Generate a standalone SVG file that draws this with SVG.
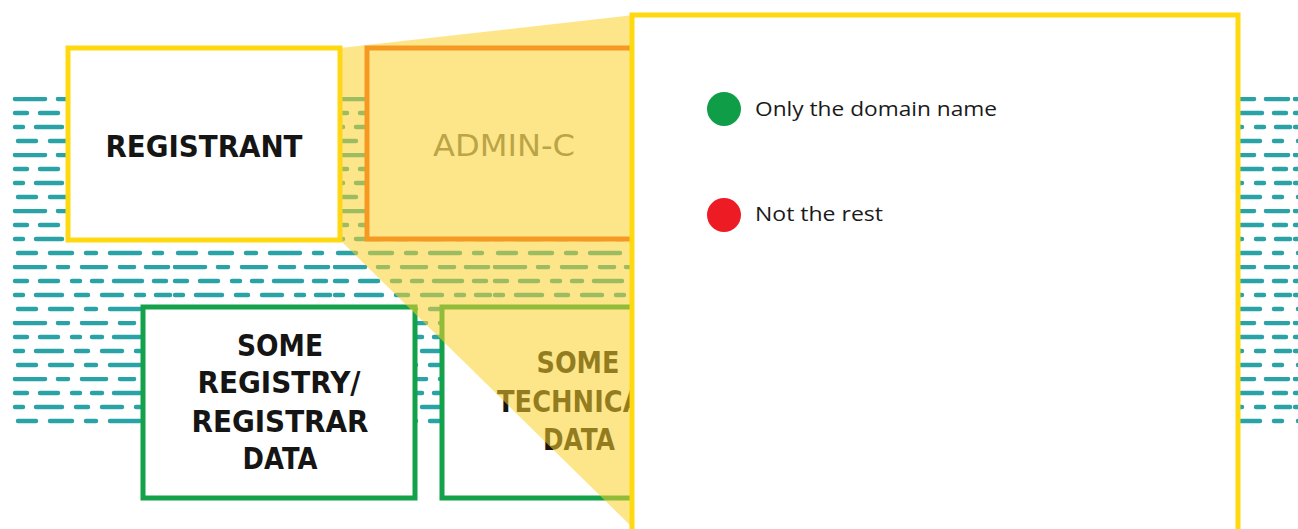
<svg xmlns="http://www.w3.org/2000/svg" width="1298" height="529" viewBox="0 0 1298 529">
  <defs>
    <style>
      .comic { font-family: "DejaVu Sans", "Liberation Sans", sans-serif; font-weight: bold; font-size: 30px; fill: #151515; text-anchor: middle; }
      .faint { font-family: "DejaVu Sans", "Liberation Sans", sans-serif; font-weight: normal; font-size: 31px; fill: #6e6e6e; text-anchor: middle; }
      .legend { font-family: "Open Sans", "Liberation Sans", sans-serif; font-size: 20px; fill: #1a1a1a; }
      .box-yellow { fill: #ffffff; stroke: #ffd90f; stroke-width: 5; }
      .box-orange { fill: #ffffff; stroke: #f0561a; stroke-width: 5; }
      .box-green { fill: #ffffff; stroke: #13a14b; stroke-width: 5; }
    </style>
    <!-- hand-drawn looking teal dash rows, four rows per tile -->
    <pattern id="dashes" x="12" y="97" width="160" height="56" patternUnits="userSpaceOnUse">
      <g stroke="#2aa3a6" stroke-width="4.5" stroke-linecap="round" fill="none">
        <path d="M3 2h30 M46 2h10 M70 2h24 M108 2h14 M134 2h22"/>
        <path d="M3 16h12 M28 16h18 M60 16h8 M80 16h10 M102 16h28 M142 16h12"/>
        <path d="M3 30h8 M24 30h26 M64 30h12 M90 30h20 M124 30h8 M144 30h14"/>
        <path d="M6 44h18 M38 44h22 M74 44h10 M98 44h30 M142 44h8"/>
      </g>
    </pattern>
  </defs>

  <rect width="1298" height="529" fill="#ffffff"/>

  <!-- water-like background band -->
  <rect id="background" x="12" y="93" width="1286" height="332" fill="url(#dashes)"/>

  <g id="registrant">
    <rect class="box-yellow" x="68" y="48" width="272" height="192"/>
    <text class="comic" x="204" y="157" textLength="197" lengthAdjust="spacingAndGlyphs">REGISTRANT</text>
  </g>

  <g id="admin-c">
    <rect class="box-orange" x="367" y="48" width="290" height="191"/>
    <text class="faint" x="504" y="156" textLength="142" lengthAdjust="spacingAndGlyphs">ADMIN-C</text>
  </g>

  <g id="registry-data">
    <rect class="box-green" x="143" y="307" width="272" height="191"/>
    <text class="comic" x="280" y="356" textLength="86" lengthAdjust="spacingAndGlyphs">SOME</text>
    <text class="comic" x="279" y="393" textLength="163" lengthAdjust="spacingAndGlyphs">REGISTRY/</text>
    <text class="comic" x="280" y="432" textLength="177" lengthAdjust="spacingAndGlyphs">REGISTRAR</text>
    <text class="comic" x="280" y="469" textLength="75" lengthAdjust="spacingAndGlyphs">DATA</text>
  </g>

  <g id="technical-data">
    <rect class="box-green" x="442" y="307" width="260" height="191"/>
    <text class="comic" x="578" y="373" textLength="83" lengthAdjust="spacingAndGlyphs">SOME</text>
    <text class="comic" x="578" y="412" textLength="162" lengthAdjust="spacingAndGlyphs">TECHNICAL</text>
    <text class="comic" x="579" y="450" textLength="72" lengthAdjust="spacingAndGlyphs">DATA</text>
  </g>

  <!-- magnifier wedge from the registrant box to the detail panel -->
  <g id="connectors">
    <polygon points="340,48 634,15 634,529 340,240" fill="#fbd12a" fill-opacity="0.55"/>
  </g>

  <g id="detail-panel">
    <rect x="632" y="15" width="606" height="530" fill="#ffffff" stroke="#ffd90f" stroke-width="5"/>
    <circle cx="724" cy="109" r="17" fill="#0f9d48"/>
    <text class="legend" x="755" y="116" textLength="242" lengthAdjust="spacingAndGlyphs">Only the domain name</text>
    <circle cx="724" cy="215" r="17" fill="#ed1c24"/>
    <text class="legend" x="755" y="221" textLength="128" lengthAdjust="spacingAndGlyphs">Not the rest</text>
  </g>
</svg>
